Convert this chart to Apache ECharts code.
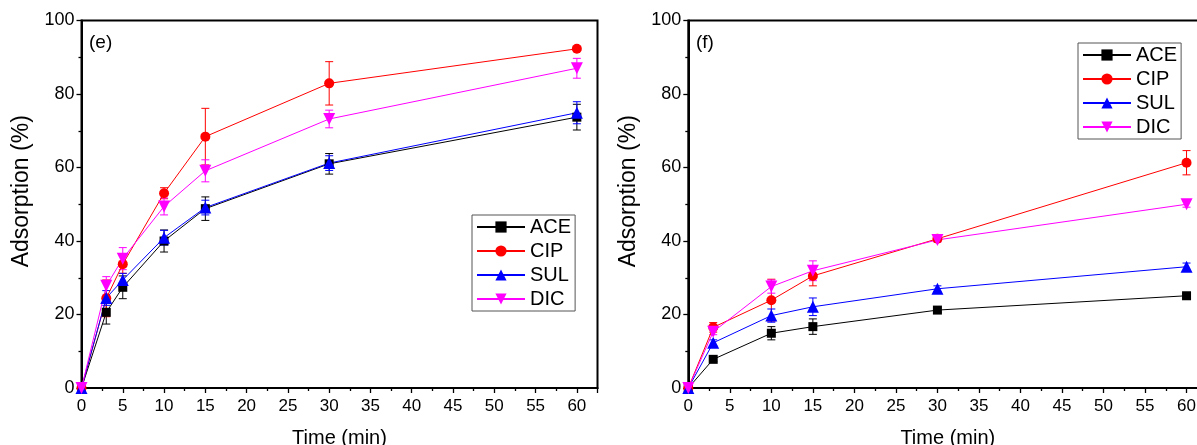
<!DOCTYPE html>
<html>
<head>
<meta charset="utf-8">
<script src="https://cdn.jsdelivr.net/npm/echarts@6/dist/echarts.min.js"></script>
<style>
html,body{margin:0;padding:0;background:#fff;}
#c{width:1197px;height:445px;}
</style>
</head>
<body>
<div id="c"></div>
<script>
// ---- data ----
var seriesNames = ['ACE', 'CIP', 'SUL', 'DIC'];
var timeE = [0, 3, 5, 10, 15, 30, 60];
var aceE = [0, 20.6, 27.4, 40.0, 48.8, 61.0, 73.7];
var aceErrE = [0, 3.2, 3.1, 3.0, 3.2, 2.8, 3.5];
var cipE = [0, 24.4, 33.7, 53.0, 68.4, 82.9, 92.3];
var cipErrE = [0, 5.0, 2.5, 1.5, 7.7, 5.9, 0.5];
var sulE = [0, 24.5, 29.4, 40.9, 49.1, 61.2, 74.9];
var sulErrE = [0, 2.0, 1.8, 2.0, 2.0, 2.0, 3.0];
var dicE = [0, 27.8, 35.2, 49.4, 59.1, 73.2, 87.0];
var dicErrE = [0, 2.5, 3.0, 2.3, 3.0, 2.4, 2.7];

var timeF = [0, 3, 10, 15, 30, 60];
var aceF = [0, 7.8, 14.9, 16.7, 21.2, 25.1];
var aceErrF = [0, 0.6, 1.8, 2.1, 0.6, 0.6];
var cipF = [0, 16.5, 23.9, 30.5, 40.6, 61.3];
var cipErrF = [0, 1.3, 5.7, 2.7, 0.7, 3.3];
var sulF = [0, 12.3, 19.7, 22.1, 27.0, 33.0];
var sulErrF = [0, 0.8, 1.8, 2.4, 0.8, 1.0];
var dicF = [0, 15.3, 27.6, 31.9, 40.3, 50.0];
var dicErrF = [0, 0.8, 1.8, 2.7, 0.6, 0.8];

var xTicks = [0, 5, 10, 15, 20, 25, 30, 35, 40, 45, 50, 55, 60];
var yTicks = [0, 20, 40, 60, 80, 100];
var panelLabels = ['(e)', '(f)'];
var xTitle = 'Time (min)';
var yTitle = 'Adsorption (%)';

// ---- styles ----
var colors = ['#000000', '#ff0000', '#0000ff', '#ff00ff'];
var symbols = ['rect', 'circle', 'triangle', 'triangle'];
var symbolSizes = [9, 10, 12, 12];
var symbolRotates = [0, 0, 0, 180];
var FONT = '"Liberation Sans", Arial, sans-serif';

var panels = [
  {t: timeE, vals: [aceE, cipE, sulE, dicE], errs: [aceErrE, cipErrE, sulErrE, dicErrE]},
  {t: timeF, vals: [aceF, cipF, sulF, dicF], errs: [aceErrF, cipErrF, sulErrF, dicErrF]}
];

function pairs(t, v) { return t.map(function (x, i) { return [x, v[i]]; }); }
function triples(t, v, e) { return t.map(function (x, i) { return [x, v[i], e[i]]; }); }

function xAxisFor(gi) {
  return {
    type: 'value', gridIndex: gi, min: 0, max: 62.5, interval: 5,
    name: xTitle, nameLocation: 'middle', nameGap: 40,
    nameTextStyle: {fontFamily: FONT, fontSize: 20, color: '#000'},
    axisLine: {show: true, onZero: false, lineStyle: {color: '#000', width: 2}},
    axisTick: {show: true, inside: false, length: 5, lineStyle: {color: '#000', width: 1.3}},
    minorTick: {show: true, splitNumber: 2, length: 3, lineStyle: {color: '#000', width: 1.3}},
    splitLine: {show: false},
    axisLabel: {
      fontFamily: FONT, fontSize: 17, color: '#000', margin: 10,
      formatter: function (v) { return xTicks.indexOf(v) >= 0 ? String(v) : ''; }
    }
  };
}
function yAxisFor(gi) {
  return {
    type: 'value', gridIndex: gi, min: 0, max: 100, interval: 20,
    name: yTitle, nameLocation: 'middle', nameGap: 48, nameRotate: 90,
    nameTextStyle: {fontFamily: FONT, fontSize: 23, color: '#000', padding: [0, 0, 0, 26]},
    axisLine: {show: true, onZero: false, lineStyle: {color: '#000', width: 2}},
    axisTick: {show: true, inside: false, length: 5, lineStyle: {color: '#000', width: 1.3}},
    minorTick: {show: true, splitNumber: 2, length: 3, lineStyle: {color: '#000', width: 1.3}},
    splitLine: {show: false},
    axisLabel: {
      fontFamily: FONT, fontSize: 18, color: '#000', margin: 7,
      formatter: function (v) { return yTicks.indexOf(v) >= 0 ? String(v) : ''; }
    }
  };
}

function errRender(color) {
  return function (params, api) {
    var x = api.value(0), y = api.value(1), e = api.value(2);
    if (!e) return null;
    var top = api.coord([x, y + e]);
    var bot = api.coord([x, y - e]);
    var hw = 4;
    var st = {stroke: color, lineWidth: 1};
    return {
      type: 'group',
      children: [
        {type: 'line', shape: {x1: top[0], y1: top[1], x2: bot[0], y2: bot[1]}, style: st},
        {type: 'line', shape: {x1: top[0] - hw, y1: top[1], x2: top[0] + hw, y2: top[1]}, style: st},
        {type: 'line', shape: {x1: bot[0] - hw, y1: bot[1], x2: bot[0] + hw, y2: bot[1]}, style: st}
      ]
    };
  };
}

var series = [];
panels.forEach(function (p, gi) {
  seriesNames.forEach(function (name, si) {
    series.push({
      type: 'custom', name: name + '_err', xAxisIndex: gi, yAxisIndex: gi,
      renderItem: errRender(colors[si]), data: triples(p.t, p.vals[si], p.errs[si]),
      z: 1, silent: true, clip: false
    });
  });
  seriesNames.forEach(function (name, si) {
    series.push({
      type: 'line', name: name, xAxisIndex: gi, yAxisIndex: gi,
      data: pairs(p.t, p.vals[si]),
      symbol: symbols[si], symbolSize: symbolSizes[si], symbolRotate: symbolRotates[si],
      showAllSymbol: true,
      lineStyle: {color: colors[si], width: 1},
      itemStyle: {color: colors[si]},
      z: 3, animation: false, clip: false
    });
  });
});

function legendFor(left, top) {
  return {
    left: left, top: top, orient: 'vertical',
    data: seriesNames.slice(),
    itemWidth: 48, itemHeight: 14, itemGap: 4,
    borderColor: '#555', borderWidth: 1, borderRadius: 0,
    padding: [2, 4, 2, 4],
    backgroundColor: '#fff',
    textStyle: {fontFamily: FONT, fontSize: 20, color: '#000'},
    selectedMode: false
  };
}

var gridCommon = {height: 367.5, show: true, borderColor: '#000', borderWidth: 2, backgroundColor: 'transparent', outerBoundsMode: 'none', containLabel: false};
var option = {
  animation: false,
  backgroundColor: '#fff',
  grid: [
    Object.assign({left: 81.5, top: 20.5, width: 516}, gridCommon),
    Object.assign({left: 688.3, top: 20.5, width: 519}, gridCommon)
  ],
  xAxis: [xAxisFor(0), xAxisFor(1)],
  yAxis: [yAxisFor(0), yAxisFor(1)],
  legend: [legendFor(472, 215), legendFor(1078, 43)],
  graphic: [
    {type: 'text', left: 89, top: 33, style: {text: panelLabels[0], fontFamily: FONT, fontSize: 19, fill: '#000'}},
    {type: 'text', left: 696, top: 33, style: {text: panelLabels[1], fontFamily: FONT, fontSize: 19, fill: '#000'}}
  ],
  series: series
};

var chart = echarts.init(document.getElementById('c'), null, {renderer: 'canvas'});
chart.setOption(option);
</script>
</body>
</html>
